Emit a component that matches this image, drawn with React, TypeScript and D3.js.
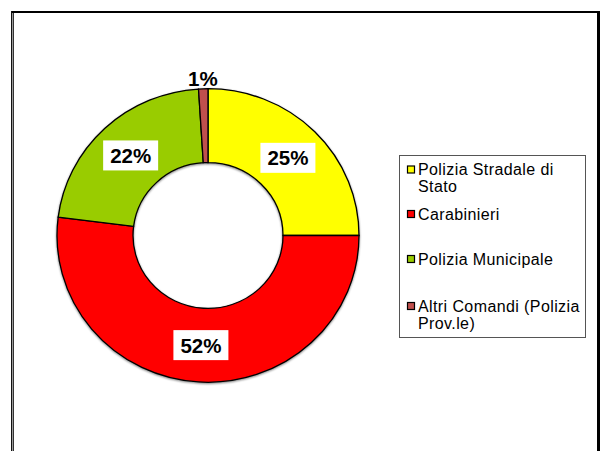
import React from "react";
import * as d3 from "d3";

const categories = [
  "Polizia Stradale di Stato",
  "Carabinieri",
  "Polizia Municipale",
  "Altri Comandi (Polizia Prov.le)",
];
const values = [25, 52, 22, 1];
const labels = ["25%", "52%", "22%", "1%"];
const legendLines = [
  ["Polizia Stradale di", "Stato"],
  ["Carabinieri"],
  ["Polizia Municipale"],
  ["Altri Comandi (Polizia", "Prov.le)"],
];
const colors = ["#FFFF00", "#FF0000", "#99CC00", "#C0504D"];

const W = 602;
const H = 451;
const cx = 208;
const cy = 235.5;
const rOuter = 151;
const rInner = 75;
const yScale = 0.972;

export default function App() {
  const pie = d3
    .pie<number>()
    .sort(null)
    .value((d) => d)
    .startAngle(0)
    .endAngle(2 * Math.PI);
  const arcs = pie(values);
  const arc = d3.arc<d3.PieArcDatum<number>>().innerRadius(rInner).outerRadius(rOuter);
  const labelArc = d3
    .arc<d3.PieArcDatum<number>>()
    .innerRadius(rInner)
    .outerRadius(rOuter);
  const outsideArc = d3
    .arc<d3.PieArcDatum<number>>()
    .innerRadius(162)
    .outerRadius(162);

  const legendY = d3.scaleOrdinal<number, number>().domain([0, 1, 2, 3]).range([169.5, 214, 259, 306]);
  const lineH = 17;

  return (
    <svg
      width={W}
      height={H}
      style={{ position: "absolute", left: 0, top: 0, background: "#fff" }}
      fontFamily="'Liberation Sans', Arial, sans-serif"
    >
      <defs>
        <filter id="sh" x="-10%" y="-10%" width="120%" height="120%">
          <feGaussianBlur in="SourceAlpha" stdDeviation="1.2" />
          <feOffset dx="0" dy="1.5" result="b" />
          <feComponentTransfer>
            <feFuncA type="linear" slope="0.5" />
          </feComponentTransfer>
          <feMerge>
            <feMergeNode />
            <feMergeNode in="SourceGraphic" />
          </feMerge>
        </filter>
      </defs>
      {/* outer frame */}
      <line x1={11} x2={600} y1={12} y2={12} stroke="#000" strokeWidth={2} />
      <line x1={11.5} x2={11.5} y1={11} y2={H} stroke="#111" strokeWidth={1} />
      <line x1={12.5} x2={12.5} y1={13} y2={H} stroke="#999" strokeWidth={1} />
      <line x1={13.5} x2={13.5} y1={13} y2={H} stroke="#333" strokeWidth={1} />
      <line x1={598.5} x2={598.5} y1={11} y2={H} stroke="#000" strokeWidth={3} />

      {/* donut */}
      <g transform={`translate(${cx},${cy}) scale(1,${yScale})`} filter="url(#sh)">
        {arcs.map((a, i) => (
          <path key={i} d={arc(a) || ""} fill={colors[i]} stroke="#000" strokeWidth={1.3} />
        ))}
      </g>

      {/* labels */}
      {arcs.map((a, i) => {
        const inside = values[i] >= 5;
        const [lx, ly] = inside ? labelArc.centroid(a) : outsideArc.centroid(a);
        const x = cx + lx;
        const y = cy + ly * yScale;
        return (
          <g key={i}>
            {inside && (
              <rect x={x - 27.5} y={y - 15} width={55} height={30} fill="#fff" />
            )}
            <text
              x={x}
              y={y}
              textAnchor="middle"
              dominantBaseline="central"
              fontSize={20.5}
              fontWeight="bold"
              fill="#000"
            >
              {labels[i]}
            </text>
          </g>
        );
      })}

      {/* legend */}
      <rect x={399.5} y={155.5} width={186} height={182} fill="#fff" stroke="#555" strokeWidth={1} />
      {categories.map((c, i) => {
        const y0 = legendY(i);
        return (
          <g key={c}>
            <rect x={407.5} y={y0 - 3.5} width={7} height={7} fill={colors[i]} stroke="#000" strokeWidth={1.2} />
            <text fontSize={16} letterSpacing={0.4} fill="#000">
              {legendLines[i].map((ln, j) => (
                <tspan key={j} x={418} y={y0 + j * lineH} dominantBaseline="central">
                  {ln}
                </tspan>
              ))}
            </text>
          </g>
        );
      })}
    </svg>
  );
}
